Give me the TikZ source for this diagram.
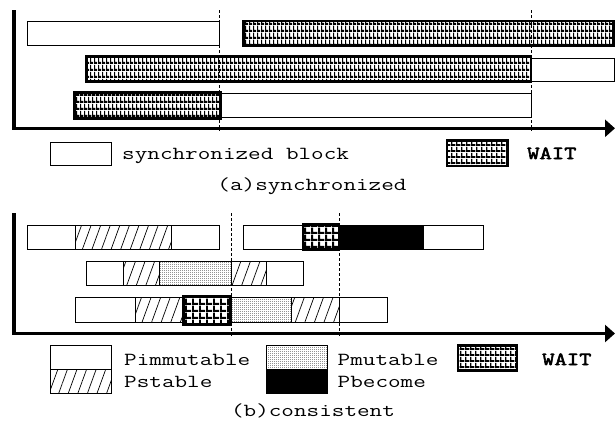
\documentclass[tikz,border=0pt]{standalone}
\usepackage{fontspec}
\newfontfamily\cmono[FakeStretch=1.33]{Latin Modern Mono}
\newfontfamily\cmonobold[FakeStretch=1.3,FakeBold=3]{Latin Modern Mono}
\usetikzlibrary{patterns,patterns.meta,arrows.meta}

% black grid with white cells, in three cell sizes
\pgfdeclarepatternformonly{waitfine}{\pgfpointorigin}{\pgfqpoint{3.6pt}{6.5pt}}{\pgfqpoint{3.6pt}{6.5pt}}{%
  \pgfpathrectangle{\pgfpointorigin}{\pgfqpoint{3.6pt}{2.3pt}}%
  \pgfpathrectangle{\pgfpointorigin}{\pgfqpoint{1.3pt}{6.5pt}}%
  \pgfusepath{fill}}
\pgfdeclarepatternformonly{waitmid}{\pgfpointorigin}{\pgfqpoint{4.6pt}{5.5pt}}{\pgfqpoint{4.6pt}{5.5pt}}{%
  \pgfpathrectangle{\pgfpointorigin}{\pgfqpoint{4.6pt}{2pt}}%
  \pgfpathrectangle{\pgfpointorigin}{\pgfqpoint{1.6pt}{5.5pt}}%
  \pgfusepath{fill}}
\pgfdeclarepatternformonly{waitcoarse}{\pgfpointorigin}{\pgfqpoint{6.6pt}{7pt}}{\pgfqpoint{6.6pt}{7pt}}{%
  \pgfpathrectangle{\pgfpointorigin}{\pgfqpoint{6.6pt}{2.3pt}}%
  \pgfpathrectangle{\pgfpointorigin}{\pgfqpoint{2.1pt}{7pt}}%
  \pgfusepath{fill}}
% fine stipple for the mutable phase
\pgfdeclarepatternformonly{stipple}{\pgfpointorigin}{\pgfqpoint{2pt}{2pt}}{\pgfqpoint{2pt}{2pt}}{%
  \pgfpathrectangle{\pgfpointorigin}{\pgfqpoint{0.95pt}{0.95pt}}%
  \pgfusepath{fill}}

\begin{document}
\begin{tikzpicture}[x=1pt,y=-1pt,
  plain/.style={draw,line width=1pt,fill=white},
  hatched/.style={draw,line width=1pt,preaction={fill=white},
    pattern={Lines[angle=70,distance=9pt,line width=0.7pt]}},
  dotted box/.style={draw,line width=1pt,preaction={fill=white},pattern=stipple},
  solid box/.style={draw,line width=1pt,fill=black},
  waitA/.style={draw,line width=2.8pt,preaction={fill=white},pattern=waitfine},
  waitL/.style={draw,line width=2.8pt,preaction={fill=white},pattern=waitmid},
  waitB/.style={draw,line width=2.8pt,preaction={fill=white},pattern=waitcoarse},
  guide/.style={line width=1pt,dash pattern=on 2.5pt off 2.5pt},
  axis/.style={line width=3.6pt,-{Triangle[length=10pt,width=17pt]}},
  lbl/.style={inner sep=0pt,font=\cmono\fontsize{18.4}{22}\selectfont},
  bold lbl/.style={inner sep=0pt,font=\cmonobold\fontsize{18.4}{22}\selectfont}]
\useasboundingbox (0,0) rectangle (615,423);

% ---------- (a) synchronized ----------
\draw[plain] (27,21.5) rectangle (219,45.5);
\draw[waitA] (243.5,21) rectangle (613.5,45.8);
\draw[plain] (531,58) rectangle (614,81.5);
\draw[waitA] (86.8,56.5) rectangle (531,81.8);
\draw[plain] (220,93.5) rectangle (531,117.5);
\draw[waitA] (74.2,92.2) rectangle (220.2,118.5);

\draw[guide] (219,10) -- (219,131);
\draw[guide] (531,10) -- (531,131);
\draw[axis] (14,10) |- (615,128.3);

% legend (a)
\draw[plain] (50.7,142) rectangle (111,165.7);
\node[lbl,anchor=base west] (syncblk) at (122,159) {synchronized block};
\draw[waitL] (447,140.7) rectangle (507.7,166);
\node[bold lbl,anchor=base west] (waitA) at (527,159) {WAIT};
\node[lbl,anchor=base] (capA) at (312,190.5) {(a)synchronized};

% ---------- (b) consistent ----------
% first row
\draw[plain] (27,225) rectangle (75,249.5);
\draw[hatched] (75,225) rectangle (171,249.5);
\draw[plain] (171,225) rectangle (219,249.5);
\draw[plain] (243,225) rectangle (302,249.5);
\draw[solid box] (340,225) rectangle (423.3,249.5);
\draw[plain] (423.3,225) rectangle (483.3,249.5);
\draw[waitB] (303,224.6) rectangle (339,249.8);
% second row
\draw[plain] (86.7,261.7) rectangle (123.3,285.5);
\draw[hatched] (123.3,261.7) rectangle (159,285.5);
\draw[dotted box] (159,261.7) rectangle (231,285.5);
\draw[hatched] (231,261.7) rectangle (266.7,285.5);
\draw[plain] (266.7,261.7) rectangle (303.3,285.5);
% third row
\draw[plain] (75,297.7) rectangle (135,322);
\draw[hatched] (135,297.7) rectangle (182,322);
\draw[dotted box] (231,297.7) rectangle (291,322);
\draw[hatched] (291,297.7) rectangle (339,322);
\draw[plain] (339,297.7) rectangle (387.3,322);
\draw[waitB] (183.2,296.5) rectangle (230.8,324.5);

\draw[guide] (231,213) -- (231,336);
\draw[guide] (339,213) -- (339,336);
\draw[axis] (14,213) |- (615,333.5);

% legend (b)
\draw[plain] (50.7,345) rectangle (111,369.3);
\draw[hatched] (50.7,369.3) rectangle (111,393.3);
\node[lbl,anchor=base west] (pimm) at (124,365) {Pimmutable};
\node[lbl,anchor=base west] (pstab) at (124,387) {Pstable};
\draw[dotted box] (266.7,345) rectangle (327.7,369.3);
\draw[solid box] (266.7,369.3) rectangle (327.7,393.3);
\node[lbl,anchor=base west] (pmut) at (337.5,365) {Pmutable};
\node[lbl,anchor=base west] (pbec) at (337.5,387) {Pbecome};
\draw[waitL] (458,345.3) rectangle (517,370.3);
\node[bold lbl,anchor=base west] (waitB) at (542,365) {WAIT};
\node[lbl,anchor=base] (capB) at (313,416) {(b)consistent};
\end{tikzpicture}
\end{document}
